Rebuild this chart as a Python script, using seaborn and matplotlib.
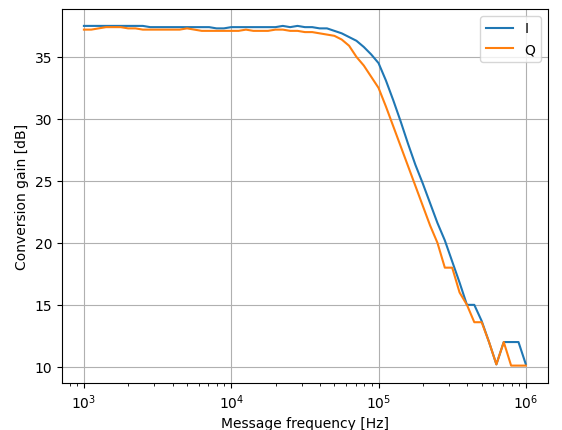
import numpy as np
import matplotlib
matplotlib.use("Agg")
import matplotlib.pyplot as plt
import seaborn as sns
import pandas as pd

freq = 10 ** np.linspace(3, 6, 61)
gain_i = [37.5,37.5,37.5,37.5,37.5,37.5,37.5,37.5,37.5,37.4,
          37.4,37.4,37.4,37.4,37.4,37.4,37.4,37.4,37.3,37.3,
          37.4,37.4,37.4,37.4,37.4,37.4,37.4,37.5,37.4,37.5,
          37.4,37.4,37.3,37.3,37.1,36.9,36.6,36.3,35.8,35.2,
          34.5,33.1,31.5,29.8,28.0,26.3,24.8,23.2,21.6,20.2,
          18.5,16.8,15.0,15.0,13.7,12.0,10.2,12.0,12.0,12.0,10.2]
gain_q = [37.2,37.2,37.3,37.4,37.4,37.4,37.3,37.3,37.2,37.2,
          37.2,37.2,37.2,37.2,37.3,37.2,37.1,37.1,37.1,37.1,
          37.1,37.1,37.2,37.1,37.1,37.1,37.2,37.2,37.1,37.1,
          37.0,37.0,36.9,36.8,36.7,36.4,35.9,35.0,34.3,33.4,
          32.5,31.0,29.4,27.8,26.2,24.6,23.0,21.4,20.0,18.0,
          18.0,16.0,15.0,13.6,13.6,12.0,10.2,12.0,10.1,10.1,10.1]

df = pd.DataFrame({"f": np.concatenate([freq, freq]),
                   "g": gain_i + gain_q,
                   "s": ["I"] * 61 + ["Q"] * 61})

fig, ax = plt.subplots(figsize=(5.62, 4.31), dpi=100)
sns.lineplot(data=df, x="f", y="g", hue="s", ax=ax,
             palette=["#1f77b4", "#ff7f0e"], linewidth=1.5)
ax.set_xscale("log")
ax.grid(True, which="major")
ax.set_xlabel("Message frequency [Hz]")
ax.set_ylabel("Conversion gain [dB]")
ax.legend(title=None, loc="upper right")
fig.subplots_adjust(left=0.11, right=0.975, bottom=0.11, top=0.977)
fig.savefig("out.png")
